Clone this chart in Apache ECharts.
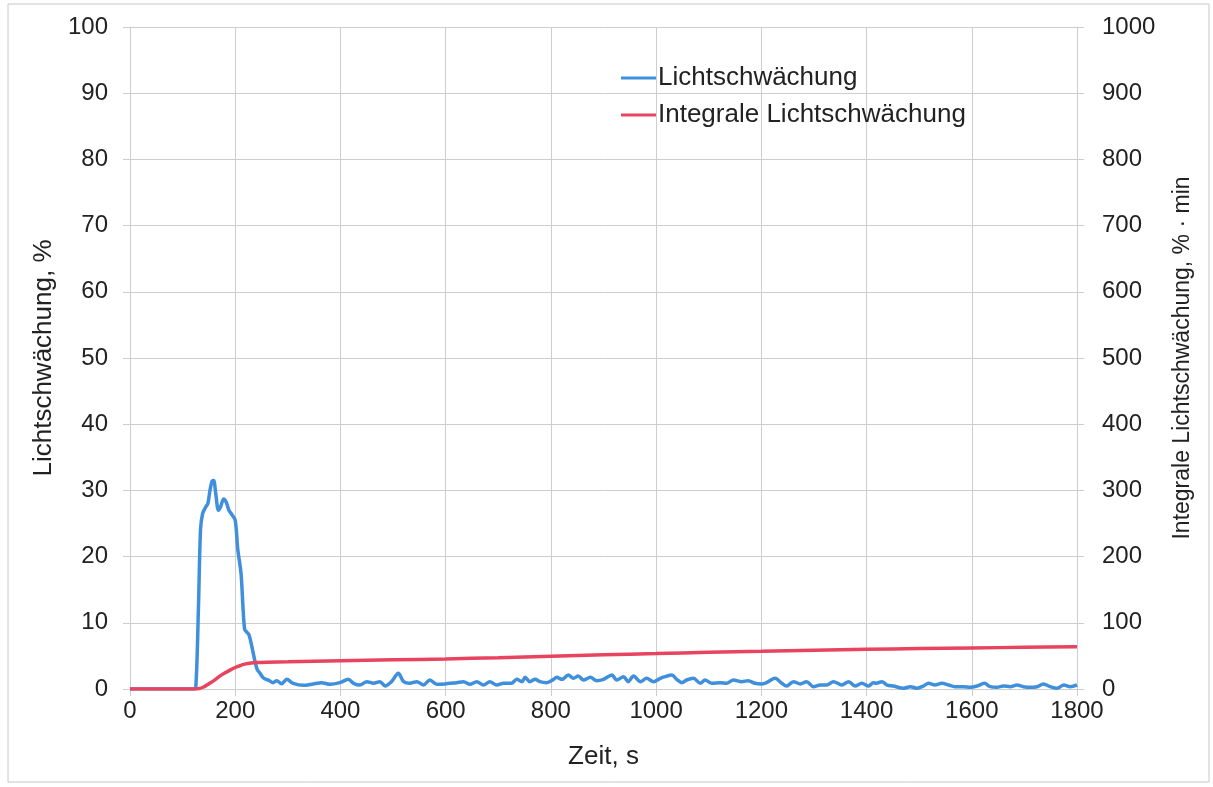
<!DOCTYPE html>
<html>
<head>
<meta charset="utf-8">
<script src="https://cdn.jsdelivr.net/npm/echarts@6/dist/echarts.min.js"></script>
<style>
html,body{margin:0;padding:0;background:#fff;}
#chart{width:1213px;height:787px;}
</style>
</head>
<body>
<div id="chart"></div>
<script>
// Zeit in s
const blueTime = [0,60,120,125,130,134,138,144,148,152,156,159,163,168,172,178,183,188,194,200,205,211,215,218,222,226,230,234,238,242,247,252,257,264,272,279,288,298,310,330,348,364,380,399,415,425,437,450,463,475,485,497,510,520,532,545,558,570,583,599,608,621,634,646,659,672,684,697,710,725,735,745,751,760,770,779,792,805,811,821,833,843,852,862,875,887,900,916,925,938,947,957,970,982,995,1008,1017,1030,1039,1049,1058,1071,1084,1093,1106,1122,1134,1147,1163,1175,1188,1201,1210,1226,1239,1248,1261,1274,1286,1299,1312,1324,1337,1353,1366,1378,1391,1404,1413,1419,1429,1439,1451,1470,1483,1496,1508,1518,1530,1543,1556,1568,1584,1597,1610,1624,1635,1648,1660,1673,1686,1698,1711,1724,1736,1749,1762,1775,1787,1800];
// Lichtschwächung in %
const blueValue = [0,0,0,0.2,12,24,26.5,27.5,28,30,31.4,31.5,29.5,27,27.5,28.7,28.2,27,26.3,25.5,21,17.5,12,9,8.6,8.2,7,5.5,4,2.9,2.4,1.8,1.5,1.3,0.95,1.25,0.8,1.46,0.86,0.55,0.76,0.96,0.7,0.96,1.46,0.86,0.6,1.11,0.86,1.11,0.45,1.11,2.37,1.11,0.86,1.11,0.6,1.36,0.7,0.76,0.86,0.96,1.11,0.7,1.11,0.6,1.11,0.6,0.86,0.86,1.46,1.11,1.76,1.11,1.46,1.11,0.96,1.46,1.76,1.46,2.11,1.61,1.96,1.36,1.76,1.26,1.46,2.11,1.36,1.86,1.11,1.96,1.11,1.61,1.11,1.61,1.86,2.11,1.46,0.96,1.36,1.61,0.86,1.36,0.86,0.96,0.86,1.36,1.11,1.26,0.86,0.76,0.96,1.61,0.86,0.45,1.11,0.76,1.11,0.35,0.6,0.6,1.11,0.6,1.11,0.45,0.86,0.45,0.96,0.86,1.11,0.6,0.45,0.1,0.35,0.1,0.45,0.86,0.6,0.86,0.6,0.35,0.35,0.25,0.45,0.86,0.35,0.25,0.45,0.35,0.6,0.35,0.25,0.35,0.76,0.35,0.1,0.6,0.35,0.6];
// Integrale Lichtschwächung in %·min
const redTime = [0,60,120,130,140,150,160,170,180,190,200,210,220,230,240,260,300,400,500,600,700,800,900,1000,1100,1200,1300,1400,1500,1600,1700,1800];
const redValue = [0,0,0,0.5,3,8,13,19,24,28.5,32.5,35.5,38,39.3,40,40.5,41,42.5,44,45.5,47.3,49.5,51.7,53.5,55.5,57,58.5,60,61,62,63,64];

const seriesNames = ['Lichtschwächung','Integrale Lichtschwächung'];
const xName = 'Zeit, s';
const yLeftName = 'Lichtschwächung, %';
const yRightName = 'Integrale Lichtschwächung, % · min';

const blueData = blueTime.map((t,i)=>[t,blueValue[i]]);
const redData = redTime.map((t,i)=>[t,redValue[i]]);

const FONT = 'Liberation Sans, Arial, sans-serif';
const gridColor = '#cdcdcd';
const tickStyle = {color:'#222', fontSize:24, fontFamily:FONT, formatter:(v)=>String(v)};
const nameStyle = {color:'#222', fontSize:26, fontFamily:FONT};

const chart = echarts.init(document.getElementById('chart'));
chart.setOption({
  animation:false,
  backgroundColor:'#fff',
  graphic:[{type:'rect', shape:{x:8,y:4,width:1201,height:778}, style:{fill:'none', stroke:'#c8c8c8', lineWidth:1}, silent:true, z:-1}],
  grid:{left:130, right:136, top:27, bottom:98},
  legend:{
    orient:'vertical', left:616, top:60, itemWidth:35, itemHeight:3, itemGap:11,
    icon:'rect',
    textStyle:{color:'#222', fontSize:26, lineHeight:26, fontFamily:FONT, padding:[0,0,0,-3]},
    data:seriesNames
  },
  xAxis:{
    type:'value', min:0, max:1800, interval:200,
    name:xName, nameLocation:'middle', nameGap:55,
    nameTextStyle:nameStyle,
    axisLine:{show:true, lineStyle:{color:gridColor}},
    axisTick:{show:true, length:7, lineStyle:{color:gridColor}},
    axisLabel:Object.assign({margin:10}, tickStyle),
    splitLine:{show:true, lineStyle:{color:gridColor, width:1}}
  },
  yAxis:[{
    type:'value', min:0, max:100, interval:10, position:'left',
    name:yLeftName, nameLocation:'middle', nameGap:72, nameRotate:90,
    nameTextStyle:nameStyle,
    axisLine:{show:true, lineStyle:{color:gridColor}},
    axisTick:{show:true, length:7, lineStyle:{color:gridColor}},
    axisLabel:Object.assign({margin:22}, tickStyle),
    splitLine:{show:true, lineStyle:{color:gridColor, width:1}}
  },{
    type:'value', min:0, max:1000, interval:100, position:'right',
    name:yRightName, nameLocation:'middle', nameGap:94, nameRotate:90,
    nameTextStyle:{color:'#222', fontSize:23, fontFamily:FONT},
    axisLine:{show:true, lineStyle:{color:gridColor}},
    axisTick:{show:true, length:7, lineStyle:{color:gridColor}},
    axisLabel:Object.assign({margin:25}, tickStyle),
    splitLine:{show:false}
  }],
  series:[{
    name:seriesNames[0], type:'line', yAxisIndex:0, data:blueData,
    showSymbol:false, smooth:0.3, color:'#3f8fdc',
    lineStyle:{width:3.5, color:'#3f8fdc'}, z:2
  },{
    name:seriesNames[1], type:'line', yAxisIndex:1, data:redData,
    showSymbol:false, smooth:0.3, color:'#e8445f',
    lineStyle:{width:3.5, color:'#e8445f'}, z:3
  }]
});
</script>
</body>
</html>
